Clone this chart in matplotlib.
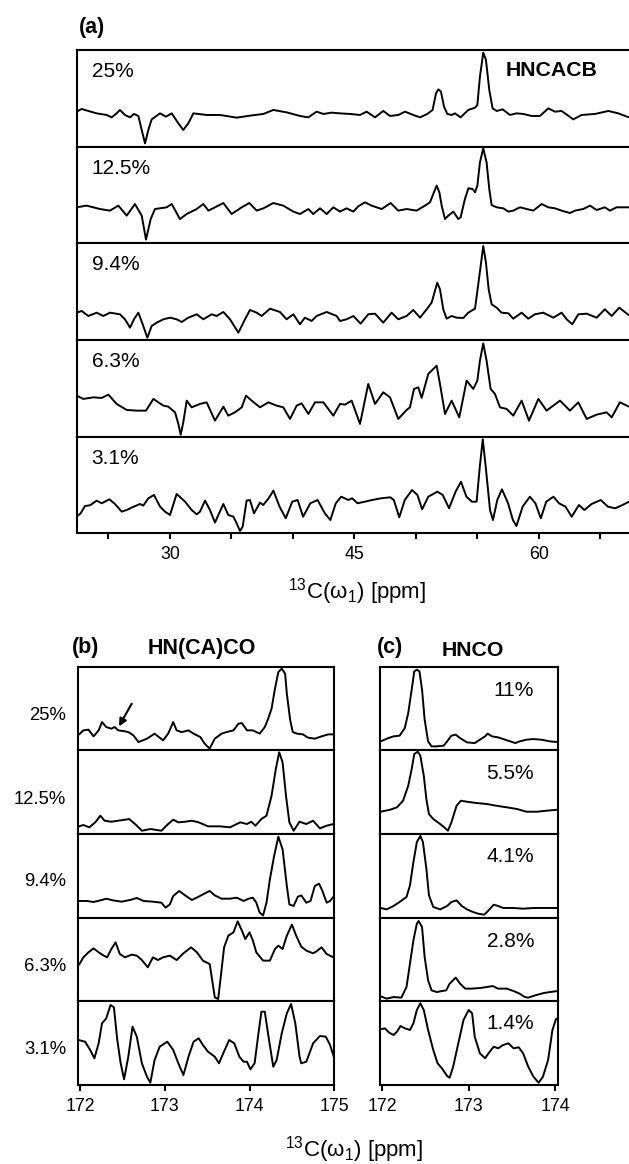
import matplotlib
matplotlib.use('Agg')
import matplotlib.pyplot as plt

plt.rcParams['font.family'] = ['Liberation Sans', 'DejaVu Sans']
plt.rcParams['mathtext.fontset'] = 'custom'
plt.rcParams['mathtext.rm'] = 'Liberation Sans'
plt.rcParams['mathtext.it'] = 'Liberation Sans:italic'

# ---------------- data: panel (a) HNCACB ----------------
a_labels = ['25%', '12.5%', '9.4%', '6.3%', '3.1%']

a25_ppm = [22.41,22.82,23.36,24.04,24.85,25.26,25.66,25.93,26.34,26.75,27.07,27.43,27.70,27.97,28.24,28.51,29.19,29.67,30.14,30.68,31.08,31.49,31.90,32.98,34.06,35.42,36.50,37.59,38.40,39.48,40.57,41.25,41.92,42.47,43.14,43.82,44.63,45.45,45.99,46.67,47.34,47.89,48.56,49.11,49.78,50.33,50.92,51.35,51.63,51.82,52.03,52.28,52.55,52.90,53.17,53.63,54.25,54.80,54.99,55.20,55.47,55.69,55.96,56.23,56.56,57.05,57.64,58.18,58.73,59.40,60.08,60.76,61.30,61.84,62.79,63.47,64.55,65.64,66.45,67.32]
a25_int = [35,37.7,35.7,33.3,31.7,29.3,33.3,36.7,31.7,29.3,32.7,30.7,16.7,3.3,16.7,27.3,33.3,30,33.3,23.3,16.7,23.3,33.3,31.7,31.7,29,31,32.7,36.7,34.3,30.7,29.3,35,32.7,34,33.3,32.7,31.7,35,29.3,35.7,30.7,31.7,35,31.7,29.3,32.7,36.7,53.3,57.3,55,40,32.7,31.7,33.3,29.3,36.7,39,41.7,70,94,86.7,56.7,38.3,35.7,37.3,31.7,33.3,32.7,30.7,30.7,38.3,35,35.7,27.3,31.7,32.7,35.7,33.3,29.3]

a125_ppm = [22.41,23.22,24.31,25.12,25.80,26.48,27.15,27.70,28.05,28.43,28.78,29.73,30.14,30.81,31.36,32.17,32.71,33.12,33.66,34.34,35.01,35.83,36.45,37.05,37.59,38.40,39.21,40.03,40.57,41.25,41.65,42.20,42.74,43.28,43.82,44.36,44.91,45.31,45.85,46.39,47.21,47.94,48.56,49.24,50.05,50.73,51.14,51.46,51.68,51.90,52.09,52.36,52.63,53.04,53.44,53.63,53.98,54.26,54.61,54.80,54.99,55.20,55.47,55.74,55.96,56.15,56.56,57.10,57.51,57.91,58.46,59.00,59.54,60.22,60.76,61.30,61.84,62.52,62.93,63.60,64.15,64.69,65.36,65.77,66.31,67.32]
a125_int = [36,37.7,34.3,32.7,37.7,27.7,39.3,27.7,3.7,24.3,34.3,36,39.3,24.3,29.3,34.3,39.3,32.7,36,40.3,29.3,36,40.3,32.7,35,40.3,37.7,31.7,29.3,34.3,29.3,35,29.3,36,31.7,35,31.7,37,41,37.7,34.3,40.3,32.7,34.3,32.7,37.7,41,51,57.7,51,37.7,24.3,27.7,31.7,24.3,26,44.3,55,54.3,51,57.7,81,95,81,54.3,38.3,36,35,31.7,32.7,36,34.3,32.7,39.3,36,35,32.7,30.3,32.7,34.3,37.7,33.3,36,32.7,36,36]

a94_ppm = [22.41,22.82,23.36,24.04,24.58,25.12,25.93,26.34,26.75,27.07,27.43,27.78,28.16,28.51,28.92,29.46,30.00,30.54,30.95,31.49,32.17,32.71,33.39,33.79,34.34,34.88,35.56,36.10,36.50,37.05,37.45,38.13,38.94,39.48,40.03,40.57,40.97,41.52,41.92,42.74,43.55,43.82,44.36,44.91,45.50,46.12,46.67,47.34,48.02,48.56,49.24,49.78,50.33,50.87,51.27,51.54,51.73,51.95,52.22,52.49,52.90,53.31,53.85,54.25,54.80,55.01,55.26,55.47,55.69,55.91,56.15,56.56,56.96,57.51,57.91,58.59,59.13,59.67,60.35,61.17,61.84,62.25,62.71,63.20,63.88,64.69,65.36,65.91,66.53,67.32]
a94_int = [27.3,29,24,27.3,24,27.3,25.7,20.7,12.3,20.7,27.3,15.7,2.3,14,17.3,20.7,22.3,20.7,18,22.3,25.7,20.7,25.7,24,28,20.7,7.3,20.7,30,27.3,24,31.3,28,20.7,25.7,15.7,22.3,19,24,28,24,19,20.7,24,16.3,25.7,26.3,17.3,27.3,20.7,24,30,22.3,30.7,37.3,49,57.3,50.7,30.7,21.3,24,22.3,22,27.3,31.3,50.7,74,94,77.3,50.7,35.7,32.3,27.3,26.7,21.3,27.3,21.3,25.7,27.3,22.3,27.3,20.7,15.7,25.7,26.3,22.3,30.7,24,32.3,24.7]

a63_ppm = [22.41,22.95,23.77,24.44,24.99,25.66,26.48,27.29,28.05,28.65,29.05,29.46,29.86,30.41,30.68,30.87,31.08,31.36,31.76,32.44,32.98,33.66,34.34,34.74,35.28,35.83,36.18,36.64,37.32,38.00,38.67,39.21,39.76,40.30,40.70,41.25,41.79,42.47,43.28,43.82,44.23,44.77,45.45,46.12,46.67,47.34,47.89,48.56,49.24,49.51,49.84,50.19,50.46,51.00,51.68,51.95,52.36,52.90,53.52,54.12,54.66,54.99,55.20,55.47,55.74,56.07,56.42,56.83,57.37,57.91,58.59,59.19,59.95,60.62,61.71,62.52,63.20,63.88,64.69,65.50,65.91,66.58,67.32]
a63_int = [41,37.7,39.3,38.7,42,32.7,26.7,26,26,37.7,34.3,31,30,24.3,12.7,2,14.3,36,29.3,32.7,34.3,16,30,21,24.3,29.3,41,36,29.3,34.3,31,29.3,17.7,31,33.3,22.7,34.3,34.3,21,32.7,32,36,12.7,52.7,32.7,44.3,39.3,17.7,26.7,29.3,47.7,49.3,38.7,62.7,71,52.7,22.7,36,19.3,56,47.7,56,76,93.3,76,47.7,42.7,29.3,27.7,21,36,16,37.7,26,36,26,34.3,17.7,22,24.3,19.3,34.3,30]

a31_ppm = [22.42,22.74,23.09,23.50,24.04,24.44,25.07,25.53,26.07,26.48,26.88,27.56,27.83,28.24,28.70,29.19,29.59,30.00,30.54,31.22,31.76,32.17,32.44,32.85,33.25,33.66,33.93,34.34,34.74,35.15,35.42,35.69,35.91,36.23,36.50,36.83,37.32,37.58,38.02,38.41,38.91,39.41,39.94,40.38,40.82,41.41,42.00,42.59,43.04,43.48,43.92,44.51,44.81,45.25,45.84,46.43,47.17,47.91,48.20,48.64,49.09,49.68,50.12,50.50,51.00,51.74,52.18,52.69,53.22,53.66,54.10,54.55,54.93,55.19,55.43,55.67,56.02,56.26,56.61,56.99,57.49,57.88,58.17,58.67,59.26,59.71,60.15,60.59,61.18,61.63,62.16,62.66,63.25,63.69,64.28,65.02,65.61,66.20,66.79,67.32]
a31_int = [16.7,20,27.3,28,32.7,30,34,29.3,21.7,23.3,25.7,29.3,27.7,35,38.3,26.7,21.7,18.3,39.3,31.7,23.3,19,21.7,32.7,23.3,10.7,18.3,29.3,18.3,16.7,10,2.3,6.7,32.7,33.3,20,30.7,28.3,35,42.7,26.6,15,31.6,33.3,16.6,30,33.3,20,13.3,30,36.6,33.3,35,30,31.6,33.3,35,36,33.3,16,33.3,43.3,38.3,24,36.6,41.6,38.3,25,41.6,51.6,36.6,31.6,31.6,66.6,94,66.6,23.3,13.3,33.3,44,30,13.3,7.3,26.6,36.6,30,15,31.6,36.6,30,26.6,16.6,28.3,23.3,29.3,33.3,26.6,25,28.3,31.6]

a_ticks = [25, 30, 35, 40, 45, 50, 55, 60, 65]
a_ticklabels = ['', '30', '', '', '45', '', '', '60', '']

# ---------------- data: panel (b) HN(CA)CO ----------------
b_labels = ['25%', '12.5%', '9.4%', '6.3%', '3.1%']

b25_ppm = [171.99,172.04,172.10,172.16,172.22,172.26,172.31,172.37,172.41,172.45,172.51,172.57,172.63,172.69,172.79,172.88,172.98,173.04,173.10,173.14,173.20,173.28,173.34,173.42,173.47,173.53,173.59,173.67,173.73,173.81,173.87,173.91,173.97,174.04,174.12,174.18,174.22,174.26,174.30,174.34,174.38,174.42,174.44,174.48,174.51,174.56,174.63,174.69,174.77,174.85,174.93,174.99]
b25_int = [16,20,20.7,14,20,28.3,23.3,21.7,23.3,20,19.3,18.3,15,8.3,11.7,16.7,10,16.7,28.3,20,18.3,20,16.7,13.3,6.7,1.7,11.7,16.7,18.3,20,26.7,27.3,20,20,16.7,23.3,31.7,41.7,61.7,78.3,81.7,76.7,56.7,30,18.3,16.7,16,12.7,11.7,14,16,16]

b125_ppm = [171.99,172.04,172.11,172.18,172.24,172.29,172.37,172.45,172.53,172.58,172.65,172.73,172.83,172.96,173.04,173.10,173.16,173.24,173.32,173.40,173.51,173.65,173.77,173.89,173.97,174.02,174.07,174.14,174.20,174.26,174.31,174.35,174.39,174.43,174.47,174.52,174.59,174.67,174.75,174.83,174.91,174.99]
b125_int = [7.7,9,6.7,11.7,18.3,13.3,12.3,13.3,14.3,15,10,3.3,5,3.3,10,14.3,11.7,12.3,13.3,11.7,7.7,7.7,6.7,11.7,10,12.3,8.3,15,18.3,38.3,65,81.7,71.7,38.3,11.7,3.3,12.3,10,13.3,5.7,8.3,10]

b94_ppm = [171.99,172.08,172.16,172.24,172.31,172.39,172.49,172.59,172.67,172.75,172.86,172.96,173.01,173.06,173.10,173.17,173.24,173.32,173.40,173.45,173.53,173.59,173.67,173.77,173.85,173.93,173.99,174.04,174.08,174.12,174.16,174.20,174.24,174.29,174.34,174.39,174.44,174.47,174.52,174.57,174.61,174.67,174.72,174.77,174.82,174.86,174.91,174.95,174.99]
b94_int = [16.7,16.7,15.7,17.3,19,17.3,16,17.7,19.7,16.7,16,15,10,13.3,21.7,26.7,22.3,17.7,21,23.3,26.7,22.3,19,19,20,16.7,19,20,15,5,2.3,15,38.3,61.7,81,68.3,31.7,13.3,11.7,21,22.3,15,16.7,31.7,34,26.7,15,16.7,21]

b63_ppm = [171.99,172.04,172.10,172.16,172.22,172.28,172.32,172.37,172.42,172.47,172.53,172.61,172.67,172.73,172.80,172.86,172.92,172.98,173.06,173.14,173.22,173.31,173.38,173.45,173.53,173.56,173.59,173.63,173.66,173.70,173.75,173.81,173.86,173.91,173.95,174.00,174.04,174.08,174.16,174.24,174.30,174.34,174.39,174.44,174.50,174.55,174.61,174.67,174.75,174.79,174.85,174.91,174.99]
b63_int = [36.7,44,49,53,49,45.7,44,52.3,59,47.3,44,46.7,45.7,41.3,34,44,41.3,44,45.7,41.3,48,54,49,40.7,37.3,20.7,4,2.3,24,54,65.7,69,80,70.7,62.3,69,60.7,49,40.7,40.7,52.3,55.7,52.3,65.7,76.7,65.7,54.7,50.7,48,50,54,47.3,44]

b31_ppm = [171.98,172.06,172.12,172.17,172.22,172.26,172.31,172.36,172.40,172.44,172.48,172.52,172.57,172.62,172.67,172.73,172.79,172.83,172.88,172.94,173.03,173.10,173.16,173.22,173.28,173.34,173.40,173.45,173.51,173.59,173.64,173.69,173.76,173.82,173.88,173.93,173.97,174.01,174.06,174.10,174.14,174.18,174.23,174.28,174.32,174.38,174.44,174.49,174.54,174.59,174.61,174.67,174.75,174.83,174.90,174.95,175.00]
b31_int = [45,43.3,35,26.7,41.7,61.7,66.7,80,77.7,45,21.7,5.7,28.3,58.3,48.3,21.7,8.3,2.3,25,38.3,43.3,35,21.7,10,28.3,43.3,46.7,40,33.3,28.3,21.7,31.7,45,41.7,28.3,23.3,23.3,15.7,21.7,48.3,73.3,73.3,45,18.3,25,51.7,71.7,81,61.7,28.3,21.7,23.3,41.7,49,48.3,40,26.7]

b_ticks = [172, 173, 174, 175]

# ---------------- data: panel (c) HNCO ----------------
c_labels = ['11%', '5.5%', '4.1%', '2.8%', '1.4%']

c11_ppm = [171.98,172.07,172.13,172.20,172.26,172.30,172.34,172.37,172.40,172.43,172.46,172.49,172.53,172.57,172.63,172.71,172.75,172.80,172.85,172.90,172.98,173.07,173.13,173.19,173.22,173.27,173.34,173.40,173.48,173.54,173.59,173.67,173.75,173.84,173.94,174.03]
c11_int = [9,12.3,14,14.7,22.3,37.3,60.7,79,80.7,79,60.7,30.7,9,4,4,4.7,9,14.7,15.7,12.3,8,7.3,10.7,14,16.7,14,13,11.3,9,7.3,9,10.7,11.3,10.7,9,8.3]

c55_ppm = [171.98,172.09,172.17,172.24,172.30,172.34,172.37,172.41,172.44,172.48,172.51,172.54,172.59,172.67,172.73,172.76,172.80,172.86,172.91,172.98,173.09,173.21,173.32,173.44,173.56,173.67,173.79,173.90,174.03]
c55_int = [22.3,24.3,26.7,33.3,48.3,65,80,82.3,78.3,58.3,35,20,15,10,5.7,3.3,11.7,28.3,33.3,32.3,31,30,28.3,26.7,25,22.3,22.3,23.3,24.3]

c41_ppm = [171.98,172.05,172.13,172.20,172.28,172.32,172.36,172.40,172.44,172.47,172.51,172.54,172.59,172.67,172.75,172.80,172.86,172.92,172.98,173.05,173.11,173.18,173.23,173.29,173.34,173.40,173.52,173.63,173.75,173.90,174.03]
c41_int = [9.7,8.3,11.7,15.7,20.7,32.3,55.7,75.7,81.7,75.7,49,22.3,10.7,8.3,11.7,15.7,17.3,11.7,8.3,5.7,4,3,7.3,13,11.7,9.7,9.7,9,9.7,9.7,9.7]

c28_ppm = [171.98,172.05,172.13,172.22,172.28,172.32,172.36,172.40,172.42,172.46,172.49,172.53,172.57,172.63,172.69,172.74,172.78,172.85,172.90,172.96,173.03,173.13,173.21,173.28,173.34,173.44,173.52,173.59,173.65,173.69,173.77,173.87,173.94,174.03]
c28_int = [5,2.7,4.3,3.7,14.3,37.7,61,77.7,80.3,74.3,44.3,21,11,9.3,10.3,11,17.7,23.7,17.7,12.7,12.7,13.3,14.3,15.3,12.7,12.7,10.3,7.7,4.3,3.7,6,8.3,9.3,10.3]

c14_ppm = [171.98,172.03,172.08,172.13,172.17,172.21,172.26,172.32,172.36,172.40,172.44,172.48,172.53,172.59,172.64,172.69,172.75,172.78,172.82,172.88,172.94,173.00,173.04,173.07,173.13,173.19,173.23,173.29,173.34,173.40,173.46,173.52,173.58,173.63,173.69,173.75,173.81,173.86,173.92,173.97,174.01,174.03]
c14_int = [55.7,56.7,52.3,50,53.3,59,56.7,55,61.7,75,81.7,75,55,35,21.7,16.7,9,7.3,18.3,41.7,65,75,71.7,48.3,31.7,26.7,31.7,38.3,36.7,40,41.7,36.7,37.7,31.7,18.3,8.3,2.3,8.3,25,55,65.7,66.7]

c_ticks = [172, 173, 174]

a_traces = [(a25_ppm, a25_int), (a125_ppm, a125_int), (a94_ppm, a94_int),
            (a63_ppm, a63_int), (a31_ppm, a31_int)]
b_traces = [(b25_ppm, b25_int), (b125_ppm, b125_int), (b94_ppm, b94_int),
            (b63_ppm, b63_int), (b31_ppm, b31_int)]
c_traces = [(c11_ppm, c11_int), (c55_ppm, c55_int), (c41_ppm, c41_int),
            (c28_ppm, c28_int), (c14_ppm, c14_int)]

# ---------------- layout (pixels) ----------------
W, H = 629, 1164
fig = plt.figure(figsize=(W / 100, H / 100), dpi=100)

def fx(x):
    return x / W

def fy(y):
    return 1 - y / H

LW_SPINE = 1.5
LW_TRACE = 1.4
TICK_FS = 12.8
XLABEL = r'$\mathregular{^{13}C(\omega_1)\ [ppm]}$'


def draw_trace(ax, ppm, inten):
    n = min(len(ppm), len(inten))
    ax.plot(ppm[:n], inten[:n], color='k', lw=LW_TRACE, solid_joinstyle='round',
            solid_capstyle='round', clip_on=True)


def style_ax(ax, right=True):
    for s in ax.spines.values():
        s.set_linewidth(LW_SPINE)
    ax.spines['right'].set_visible(right)
    ax.set_yticks([])
    ax.tick_params(axis='x', direction='out', length=4.5, width=1.5,
                   labelsize=TICK_FS, pad=5)


# panel (a)
A_LEFT, A_TOP, A_BOT = 76.7, 50.0, 533.3
a_h = (A_BOT - A_TOP) / 5
a_xlim = (22.415, 67.32)
for k, (ppm, inten) in enumerate(a_traces):
    top = A_TOP + k * a_h
    ax = fig.add_axes([fx(A_LEFT), fy(top + a_h), 1.0 - fx(A_LEFT), a_h / H])
    draw_trace(ax, ppm, inten)
    ax.set_xlim(*a_xlim)
    ax.set_ylim(0, a_h)
    style_ax(ax, right=False)
    if k < 4:
        ax.set_xticks([])
    else:
        ax.set_xticks(a_ticks)
        ax.set_xticklabels(a_ticklabels)
    fig.text(fx(91.7), fy(top + 21.5), a_labels[k], fontsize=15, ha='left', va='center')

fig.text(fx(79), fy(28), '(a)', fontsize=15.5, fontweight='bold', ha='left', va='center')
fig.text(fx(551.7), fy(70.5), 'HNCACB', fontsize=15.3, fontweight='bold', ha='center', va='center')
fig.text(fx(357), fy(592), XLABEL, fontsize=16, ha='center', va='center')

# panels (b) and (c)
BC_TOP, BC_BOT = 666.7, 1085.0
bc_h = (BC_BOT - BC_TOP) / 5
B_LEFT, B_RIGHT = 77.7, 334.3
C_LEFT, C_RIGHT = 380.0, 557.7
b_xlim = (171.973, 175.0)
c_xlim = (171.973, 174.031)

b_label_y = [715, 800, 881.7, 966.7, 1050]
c_label_y = [690.7, 773.3, 856.7, 941.7, 1023.3]

for k in range(5):
    top = BC_TOP + k * bc_h
    axb = fig.add_axes([fx(B_LEFT), fy(top + bc_h), (B_RIGHT - B_LEFT) / W, bc_h / H])
    draw_trace(axb, *b_traces[k])
    axb.set_xlim(*b_xlim)
    axb.set_ylim(0, bc_h)
    style_ax(axb)
    axc = fig.add_axes([fx(C_LEFT), fy(top + bc_h), (C_RIGHT - C_LEFT) / W, bc_h / H])
    draw_trace(axc, *c_traces[k])
    axc.set_xlim(*c_xlim)
    axc.set_ylim(0, bc_h)
    style_ax(axc)
    if k < 4:
        axb.set_xticks([])
        axc.set_xticks([])
    else:
        axb.set_xticks(b_ticks)
        axb.set_xticklabels([str(t) for t in b_ticks])
        axc.set_xticks(c_ticks)
        axc.set_xticklabels([str(t) for t in c_ticks])
    if k == 0:
        axb.annotate('', xy=(172.46, 24), xytext=(172.61, 46.7),
                     arrowprops=dict(arrowstyle='-|>', color='k', lw=1.5,
                                     mutation_scale=11, shrinkA=0, shrinkB=0))
    fig.text(fx(66), fy(b_label_y[k]), b_labels[k], fontsize=13.3, ha='right', va='center')
    fig.text(fx(534), fy(c_label_y[k]), c_labels[k], fontsize=15, ha='right', va='center')

fig.text(fx(71.7), fy(647.5), '(b)', fontsize=15.5, fontweight='bold', ha='left', va='center')
fig.text(fx(201.7), fy(648.3), 'HN(CA)CO', fontsize=15.5, fontweight='bold', ha='center', va='center')
fig.text(fx(376.7), fy(648), '(c)', fontsize=15.5, fontweight='bold', ha='left', va='center')
fig.text(fx(472.5), fy(650.7), 'HNCO', fontsize=15.3, fontweight='bold', ha='center', va='center')
fig.text(fx(354), fy(1150), XLABEL, fontsize=16, ha='center', va='center')

fig.savefig('out.png', dpi=100)
